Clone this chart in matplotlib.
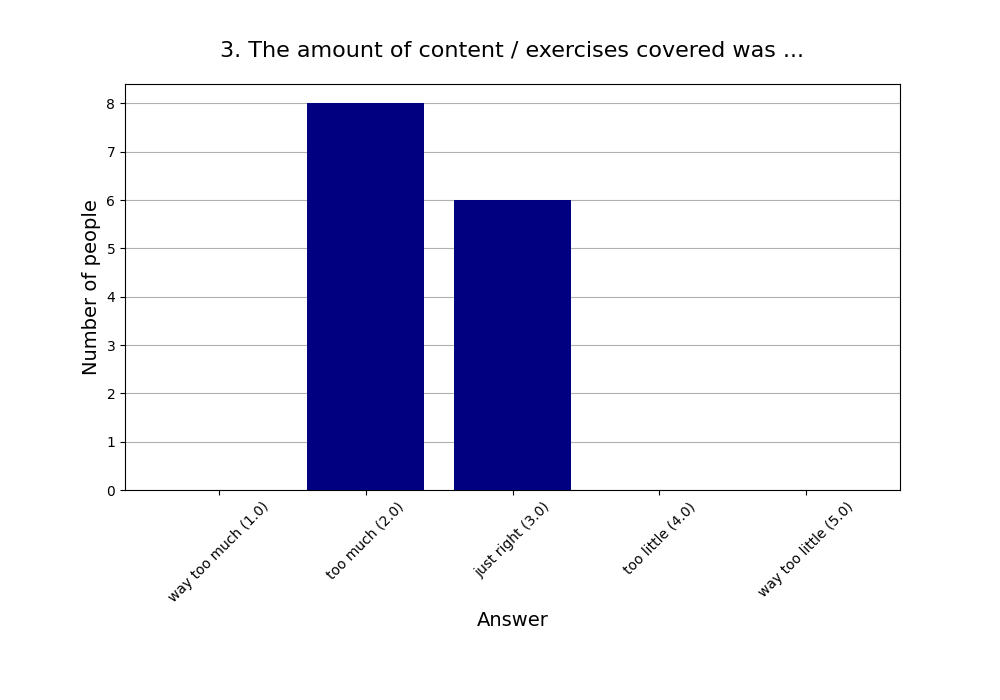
import matplotlib
matplotlib.use("Agg")
import matplotlib.pyplot as plt

categories = ["way too much (1.0)", "too much (2.0)", "just right (3.0)", "too little (4.0)", "way too little (5.0)"]
counts = [0, 8, 6, 0, 0]

fig = plt.figure(figsize=(10, 7), dpi=100)
ax = fig.add_axes([0.125, 0.3, 0.775, 0.58])
ax.bar(range(len(categories)), counts, width=0.8, color="navy", zorder=3)
ax.set_xticks(range(len(categories)))
ax.set_xticklabels(categories, rotation=45)
ax.yaxis.grid(True, color="#b0b0b0", zorder=0)
ax.set_axisbelow(True)
ax.set_title("3. The amount of content / exercises covered was ...", fontsize=16, pad=20)
ax.set_xlabel("Answer", fontsize=14)
ax.set_ylabel("Number of people", fontsize=14)
fig.savefig("out.png", dpi=100)
